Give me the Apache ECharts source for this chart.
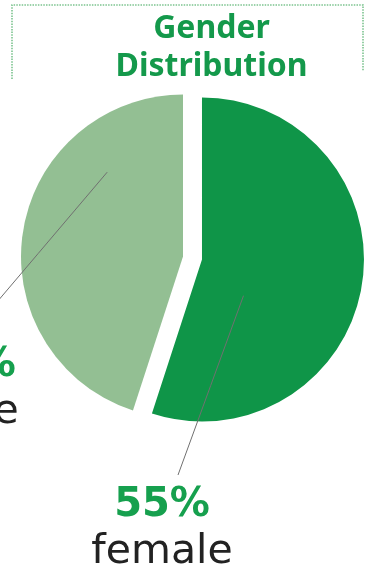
<!DOCTYPE html>
<html>
<head>
<meta charset="utf-8">
<script src="https://cdn.jsdelivr.net/npm/echarts@6/dist/echarts.min.js"></script>
<style>
html,body{margin:0;padding:0;background:#fff;}
#c{width:366px;height:574px;}
</style>
</head>
<body>
<div id="c"></div>
<script>
// ---- data ----
var categories = ['female', 'male'];
var values = [55, 45];
var sliceColors = ['#0f9548', '#93bf93'];
var titleText = 'Gender\nDistribution';

// ---- layout ----
var CX = 192.5, CY = 258, R = 162, OFF = 9.6;
var labelOffsets = [[-30.5, 225], [-224.5, 85]];   // label box top-center relative to pie centre
var anchorFrac = [0.662, 0.741];  // guide start position along slice angle
var anchorRad = [0.34, 0.70];     // guide start radius fraction
var endShift = [[16, -8], [1, -8]];

var total = values.reduce(function (a, b) { return a + b; }, 0);
function sliceInfo(i) {
  var start = 0;
  for (var k = 0; k < i; k++) start += values[k] / total * 360;
  var span = values[i] / total * 360;
  var mid = (start + span / 2) * Math.PI / 180;
  return { start: start, span: span, dx: OFF * Math.sin(mid), dy: -OFF * Math.cos(mid) };
}
function labelPos(i) { return [CX + labelOffsets[i][0], CY + labelOffsets[i][1]]; }

var chart = echarts.init(document.getElementById('c'), null, { renderer: 'canvas' });
var data = categories.map(function (n, i) {
  return {
    name: n, value: values[i], selected: true,
    itemStyle: { color: sliceColors[i] },
    select: { itemStyle: { color: sliceColors[i], borderWidth: 0 } }
  };
});

chart.setOption({
  animation: false,
  title: {
    text: titleText, left: 206.5, top: 5, textAlign: 'center',
    textStyle: { fontFamily: 'Noto Sans', fontWeight: 'bold', fontSize: 32, lineHeight: 38, color: '#14994b' }
  },
  graphic: [{
    type: 'polyline', silent: true,
    shape: { points: [[12, 79], [12, 5], [363, 5], [363, 71]] },
    style: { stroke: '#7cc38f', lineWidth: 1.6, lineDash: [1.5, 1.2], fill: null }
  }],
  series: [{
    type: 'pie',
    center: [CX, CY],
    radius: [0, R],
    startAngle: 90,
    clockwise: true,
    selectedMode: 'multiple',
    selectedOffset: OFF,
    silent: true,
    emphasis: { disabled: true },
    select: { itemStyle: { borderWidth: 0 } },
    itemStyle: { borderWidth: 0 },
    label: {
      show: true, position: 'outside',
      width: 220, overflow: 'none',
      formatter: '{p|{c}%}\n{n|{b}}',
      align: 'center', verticalAlign: 'top',
      rich: {
        p: { fontFamily: 'DejaVu Sans', fontWeight: 'bold', fontSize: 40, lineHeight: 46, color: '#16a04e', align: 'center' },
        n: { fontFamily: 'DejaVu Sans', fontSize: 41, lineHeight: 46, color: '#222222', align: 'center' }
      }
    },
    labelLine: { show: true, lineStyle: { color: '#707070', width: 1 } },
    labelLayout: function (params) {
      var i = params.dataIndex;
      var s = sliceInfo(i);
      var lp = labelPos(i);
      var th = (s.start + s.span * anchorFrac[i]) * Math.PI / 180;
      var ar = R * anchorRad[i];
      // guide line lives in the (offset) sector's local frame
      var a = [CX + ar * Math.sin(th), CY - ar * Math.cos(th)];
      var e = [lp[0] + endShift[i][0] - s.dx, lp[1] + endShift[i][1] - s.dy];
      return {
        x: lp[0], y: lp[1], align: 'center', verticalAlign: 'top',
        labelLinePoints: [a, [(a[0] + e[0]) / 2, (a[1] + e[1]) / 2], e]
      };
    },
    data: data
  }]
});

// place labels and raise guide lines above the slices
var zr = chart.getZr();
zr.storage.getDisplayList(true).forEach(function (el) {
  if (el.type !== 'sector') return;
  var t = el.getTextContent();
  var g = el.getTextGuideLine();
  if (t) {
    var txt = String(t.style.text || '');
    categories.forEach(function (n, i) {
      if (txt.indexOf('|' + n + '}') >= 0) {
        var lp = labelPos(i);
        t.x = lp[0]; t.y = lp[1];
        t.setStyle({ x: 0, y: 0, align: 'center', verticalAlign: 'top' });
        t.markRedraw();
      }
    });
  }
  if (g) { g.z2 = el.z2 + 5; g.markRedraw(); }
});
zr.refreshImmediately();
</script>
</body>
</html>
